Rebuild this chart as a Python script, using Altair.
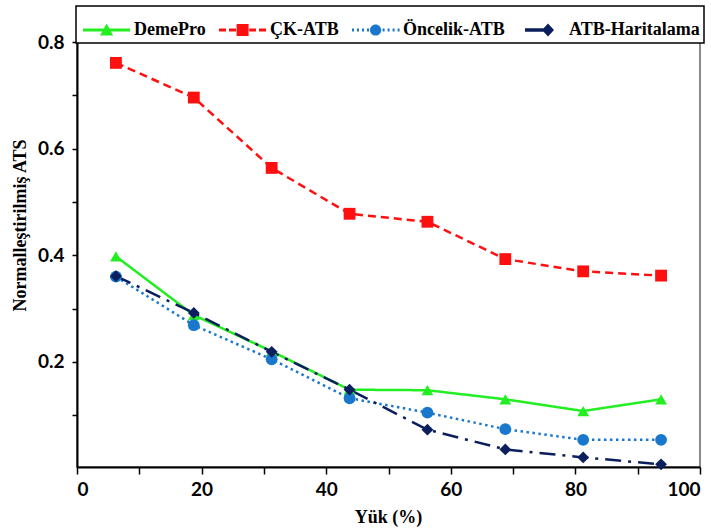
import altair as alt
import pandas as pd

# ---- data ----
load = [6.25, 18.75, 31.25, 43.75, 56.25, 68.75, 81.25, 93.75]
series = ["DemePro", "ÇK-ATB", "Öncelik-ATB", "ATB-Haritalama"]
demepro = [0.398, 0.288, 0.220, 0.148, 0.147, 0.130, 0.108, 0.130]
ck_atb = [0.761, 0.696, 0.564, 0.478, 0.463, 0.393, 0.370, 0.362]
oncelik = [0.360, 0.269, 0.205, 0.132, 0.105, 0.074, 0.054, 0.054]
haritalama = [0.361, 0.292, 0.219, 0.148, 0.073, 0.036, 0.021, 0.008]

x_ticks = [0, 10, 20, 30, 40, 50, 60, 70, 80, 90, 100]
y_ticks = [0.1, 0.2, 0.3, 0.4, 0.5, 0.6, 0.7, 0.8]

colors = ["#22EE22", "#FF1010", "#1A78CC", "#0B1F5E"]
dashes = [[1, 0], [8, 5], [2.5, 3.5], [16, 7, 3, 7]]
shapes = ["triangle-up", "square", "circle", "diamond"]


def bar(a, b, t=0.075):
    return f"M{a},{-t}L{b},{-t}L{b},{t}L{a},{t}Z "


# legend glyphs: line sample + marker, drawn as filled shapes
legend_paths = [
    bar(-0.85, 1.5) + "M0.0,0.27L0.33,-0.33L0.66,0.27Z",
    bar(-0.85, -0.5) + bar(-0.35, 0.0) + bar(0.66, 1.0) + bar(1.15, 1.5)
    + "M0.03,-0.3L0.63,-0.3L0.63,0.3L0.03,0.3Z",
    bar(-0.85, -0.75) + bar(-0.6, -0.5) + bar(-0.35, -0.25) + bar(-0.1, 0.0)
    + bar(0.68, 0.78) + bar(0.93, 1.03) + bar(1.18, 1.28) + bar(1.43, 1.53)
    + "M0.05,0A0.28,0.28 0 1,1 0.61,0A0.28,0.28 0 1,1 0.05,0Z",
    bar(-0.5, 0.45, 0.085) + "M0.35,0L0.65,-0.32L0.95,0L0.65,0.32Z",
]

rows = []
for name, vals in zip(series, [demepro, ck_atb, oncelik, haritalama]):
    for x, v in zip(load, vals):
        rows.append({"load": x, "value": v, "series": name})
df = pd.DataFrame(rows)

serif = "Liberation Serif"
sans = "Lato"

x_enc = alt.X(
    "load:Q",
    scale=alt.Scale(domain=[0, 100], nice=False, zero=False),
    axis=alt.Axis(
        values=x_ticks,
        labelExpr="datum.value % 20 == 0 ? datum.label : ''",
        title="Yük (%)",
        titleFont=serif, titleFontSize=18, titleFontWeight="bold", titleColor="black",
        titleX=311, titleY=50, titleBaseline="middle", titleAlign="center",
        labelFont=sans, labelFontSize=19, labelFontWeight="bold", labelColor="black",
        labelPadding=6, tickSize=7, tickColor="black", tickWidth=1.5,
        domainColor="black", domainWidth=2, grid=False,
    ),
)
y_enc = alt.Y(
    "value:Q",
    scale=alt.Scale(domain=[0.003, 0.864], nice=False, zero=False),
    axis=alt.Axis(
        values=y_ticks,
        format=".1f",
        labelExpr="round(datum.value * 10) % 2 == 0 ? datum.label : ''",
        title="Normalleştirilmiş ATS",
        titleFont=serif, titleFontSize=18, titleFontWeight="bold", titleColor="black",
        titleX=-57, titleY=217, titleBaseline="middle", titleAlign="center", titleAngle=270,
        labelFont=sans, labelFontSize=19, labelFontWeight="bold", labelColor="black",
        labelPadding=8, tickSize=5, tickColor="black", tickWidth=1.5,
        domainColor="black", domainWidth=2, grid=False,
    ),
)

base = alt.Chart(df)

layers = []
for name, col, dash in zip(series, colors, dashes):
    sub = base.transform_filter(alt.datum.series == name)
    layers.append(
        sub.mark_line(strokeWidth=2.5, color=col, strokeDash=dash).encode(x=x_enc, y=y_enc)
    )
for name, col, shp in zip(series, colors, shapes):
    sub = base.transform_filter(alt.datum.series == name)
    layers.append(
        sub.mark_point(filled=True, size=140, opacity=1, color=col, shape=shp).encode(x=x_enc, y=y_enc)
    )

leg = alt.Legend(
    title=None, orient="none", direction="horizontal", columns=4,
    legendX=-1, legendY=-2, padding=4,
    symbolSize=1600, symbolStrokeWidth=0, symbolOpacity=1,
    labelFont=serif, labelFontSize=18, labelFontWeight="bold", labelColor="black",
    labelOffset=14, columnPadding=10,
    fillColor="white", strokeColor="black",
)

legend_layer = base.mark_point(filled=True, opacity=0).encode(
    x=x_enc, y=y_enc,
    color=alt.Color("series:N", scale=alt.Scale(domain=series, range=colors), legend=leg),
    shape=alt.Shape("series:N", scale=alt.Scale(domain=series, range=legend_paths), legend=leg),
)
layers.append(legend_layer)

chart = (
    alt.layer(*layers)
    .properties(
        width=623, height=459,
        autosize=alt.AutoSizeParams(type="none"),
        padding={"left": 77, "top": 8, "right": 11, "bottom": 64},
        background="white",
    )
    .configure_view(stroke="#666666", strokeWidth=1.5)
    .configure_legend(strokeWidth=1.5)
)

chart.save("out.html", embed_options={"renderer": "svg", "actions": False})
